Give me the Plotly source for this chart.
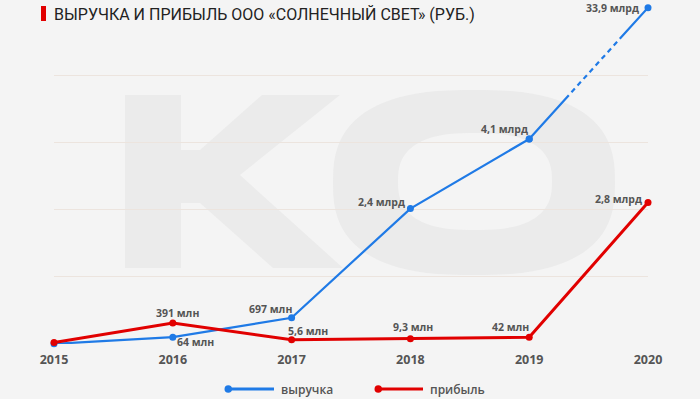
import numpy as np
import plotly.graph_objects as go

# ---------------- data ----------------
years = [2015, 2016, 2017, 2018, 2019, 2020]
x_tick_labels = ["2015", "2016", "2017", "2018", "2019", "2020"]
revenue_labels = ["", "64 млн", "697 млн", "2,4 млрд", "4,1 млрд", "33,9 млрд"]
profit_labels = ["", "391 млн", "5,6 млн", "9,3 млн", "42 млн", "2,8 млрд"]
# plotted heights as drawn in the original (chart is not to a linear scale), gridline units
revenue_level = [0.0, 0.10, 0.39, 2.02, 3.06, 5.02]
profit_level = [0.02, 0.31, 0.06, 0.075, 0.10, 2.11]
grid_levels = [0, 1, 2, 3, 4]

series_names = ["выручка", "прибыль"]
title_text = "ВЫРУЧКА И ПРИБЫЛЬ ООО «СОЛНЕЧНЫЙ СВЕТ» (РУБ.)"

# ---------------- style ----------------
BLUE = "#1f7ae6"
RED = "#e10000"
BG = "#f4f4f4"
TXT = "#555555"
GRID = "#ece4de"
WM = "#ebebeb"
FONT = "Open Sans"

WIDTH, HEIGHT = 700, 399
L, R, T, B = 54, 52, 2, 55
PW, PH = WIDTH - L - R, HEIGHT - T - B
Y_MAX = 342 / 67.0


def P(px, py):
    """pixel position -> paper coordinates (for decorations only)"""
    return (px - L) / PW, (HEIGHT - B - py) / PH


# label offsets (pixels, dx right, dy down) relative to points
rev_off = [(0, 0), (23, 5), (-21, -9), (-29, -7), (-25, -10), (-36, 0)]
prof_off = [(0, 0), (5, -10), (16, -9), (3, -12), (-19, -10), (-30, -4)]

fig = go.Figure()

# blue line (solid part)
fig.add_trace(go.Scatter(
    x=years[:5], y=revenue_level[:5], mode="lines+markers",
    line=dict(color=BLUE, width=2.2), marker=dict(color=BLUE, size=7),
    cliponaxis=False, showlegend=False, hoverinfo="skip"))
# blue last segment with dotted middle part
dash = "59px,4px," + "5px,4px," * 8 + "80px"
fig.add_trace(go.Scatter(
    x=years[4:], y=revenue_level[4:], mode="lines+markers",
    line=dict(color=BLUE, width=2.2, dash=dash), marker=dict(color=BLUE, size=7),
    cliponaxis=False, showlegend=False, hoverinfo="skip"))
# red line
fig.add_trace(go.Scatter(
    x=years, y=profit_level, mode="lines+markers",
    line=dict(color=RED, width=3), marker=dict(color=RED, size=7),
    cliponaxis=False, showlegend=False, hoverinfo="skip"))

annotations = []
for xs, ys, labs, offs in [(years, revenue_level, revenue_labels, rev_off),
                           (years, profit_level, profit_labels, prof_off)]:
    for xv, yv, lab, (dx, dy) in zip(xs, ys, labs, offs):
        if not lab:
            continue
        annotations.append(dict(
            x=xv, y=yv, xref="x", yref="y", text=lab, showarrow=False,
            xanchor="center", yanchor="middle", xshift=dx, yshift=-dy,
            font=dict(family=FONT, size=10.5, color=TXT, weight="bold")))

# title
tx, ty = P(52, 14)
annotations.append(dict(x=tx, y=ty, xref="paper", yref="paper", text=title_text,
                        showarrow=False, xanchor="left", yanchor="middle",
                        font=dict(family="Roboto", size=16, color="#222222")))

shapes = []
# title red bar
x0, y0 = P(41, 21)
x1, y1 = P(46, 6)
shapes.append(dict(type="rect", xref="paper", yref="paper", x0=x0, y0=y0, x1=x1, y1=y1,
                   fillcolor=RED, line=dict(width=0)))

# watermark "K"
k_pts = [(125, 95), (181, 95), (181, 150), (200, 150), (262, 95), (340, 95), (240, 175),
         (343, 268), (273, 268), (200, 203), (181, 203), (181, 268), (125, 268)]
path = "M " + " L ".join("%.5f,%.5f" % P(a, b) for a, b in k_pts) + " Z"
shapes.append(dict(type="path", xref="paper", yref="paper", path=path,
                   fillcolor=WM, line=dict(width=0), layer="below"))
# watermark "O" (ring)
t = np.linspace(0, 2 * np.pi, 90, endpoint=False)


def ring(cx, cy, rx, ry, n=4):
    c, s = np.cos(t), np.sin(t)
    ex = cx + rx * np.sign(c) * np.abs(c) ** (2 / n)
    ey = cy + ry * np.sign(s) * np.abs(s) ** (2 / n)
    return "M " + " L ".join("%.5f,%.5f" % P(a, b) for a, b in zip(ex, ey)) + " Z"


opath = ring(474, 182.5, 141, 92.5, 2.6) + " " + ring(475, 181.5, 77, 48.5, 2.6)
shapes.append(dict(type="path", xref="paper", yref="paper", path=opath,
                   fillcolor=WM, line=dict(width=0), layer="below", fillrule="evenodd"))

# custom legend
for (lx0, lx1, ty_), color, name, txt_x in [((225, 274, 389), BLUE, series_names[0], 279),
                                            ((375, 423, 389), RED, series_names[1], 428)]:
    a0, b0 = P(lx0, ty_)
    a1, _ = P(lx1, ty_)
    shapes.append(dict(type="line", xref="paper", yref="paper", x0=a0, y0=b0, x1=a1, y1=b0,
                       line=dict(color=color, width=3)))
    c0, d0 = P(lx0 - 0.5, ty_ - 3.8)
    c1, d1 = P(lx0 + 7, ty_ + 3.8)
    shapes.append(dict(type="circle", xref="paper", yref="paper", x0=c0, y0=d1, x1=c1, y1=d0,
                       fillcolor=color, line=dict(width=0)))
    tx_, ty2 = P(txt_x, ty_)
    annotations.append(dict(x=tx_, y=ty2, xref="paper", yref="paper", text=name,
                            showarrow=False, xanchor="left", yanchor="middle",
                            font=dict(family=FONT, size=12, color=TXT, weight=600)))

fig.update_layout(
    width=WIDTH, height=HEIGHT,
    margin=dict(l=L, r=R, t=T, b=B),
    paper_bgcolor=BG, plot_bgcolor=BG,
    showlegend=False,
    annotations=annotations, shapes=shapes,
    xaxis=dict(range=[years[0], years[-1]], tickvals=years, ticktext=x_tick_labels,
               showgrid=False, zeroline=False, showline=False, ticks="",
               ticklabelstandoff=6,
               tickfont=dict(family=FONT, size=12.5, color=TXT, weight="bold"),
               fixedrange=True),
    yaxis=dict(range=[-0.002, Y_MAX], tickvals=grid_levels, showgrid=True, gridcolor=GRID,
               gridwidth=1, zeroline=False, showticklabels=False, showline=False,
               fixedrange=True),
)

fig.write_html("out.html", config={"displayModeBar": False},
               post_script="document.body.style.margin='0px';")
